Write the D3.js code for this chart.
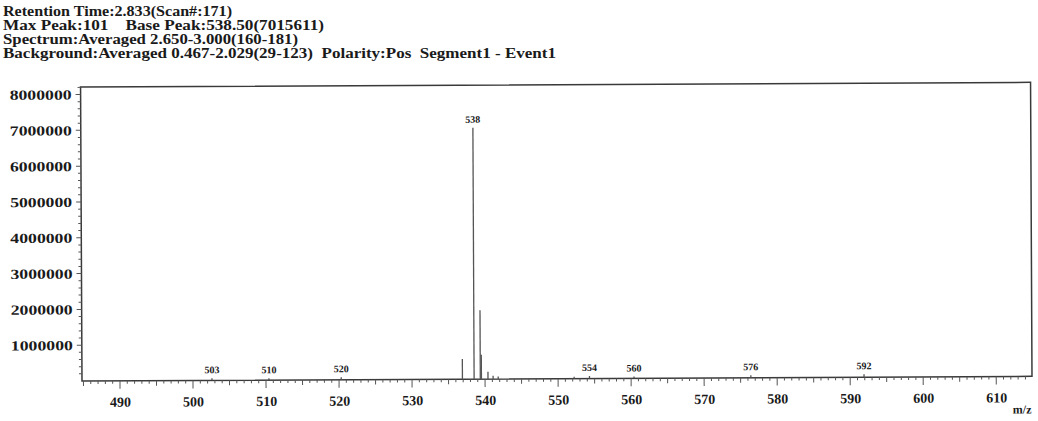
<!DOCTYPE html>
<html>
<head>
<meta charset="utf-8">
<script src="https://cdn.jsdelivr.net/npm/d3@7"></script>
<style>
  html, body { margin: 0; padding: 0; background: #fff; }
  svg { display: block; }
  text { font-family: "Liberation Serif", "Times New Roman", Times, serif; font-weight: bold; fill: #1a1a1a; white-space: pre; }
</style>
</head>
<body>
<svg id="chart" width="1038" height="421"></svg>
<script>
// Run header
const headerLines = [
  "Retention Time:2.833(Scan#:171)",
  "Max Peak:101    Base Peak:538.50(7015611)",
  "Spectrum:Averaged 2.650-3.000(160-181)",
  "Background:Averaged 0.467-2.029(29-123)  Polarity:Pos  Segment1 - Event1"
];
const headerWidths = [229, 321, 295, 553];

// Centroid peaks (m/z, intensity)
const peakMz        = [502.6, 510.4, 520.3, 536.9, 538.5, 539.35, 539.5, 540.4, 541.1, 541.8, 552.2, 554.3, 560.4, 576.4, 591.9];
const peakIntensity = [60000, 50000, 70000, 560000, 7015611, 1920000, 680000, 200000, 90000, 70000, 50000, 70000, 50000, 70000, 80000];

// Annotated peaks
const labelMz   = [502.6, 510.4, 520.3, 538.5, 554.3, 560.4, 576.4, 591.9];
const labelText = ["503", "510", "520", "538", "554", "560", "576", "592"];

// Axis ticks
const xTickValues = [490, 500, 510, 520, 530, 540, 550, 560, 570, 580, 590, 600, 610];
const yTickValues = [1000000, 2000000, 3000000, 4000000, 5000000, 6000000, 7000000, 8000000];

const svg = d3.select("#chart");

// Header block
svg.append("g").selectAll("text")
  .data(headerLines)
  .join("text")
  .attr("x", 3)
  .attr("y", (d, i) => 16 + i * 14)
  .attr("font-size", 14)
  .attr("xml:space", "preserve")
  .attr("textLength", (d, i) => headerWidths[i])
  .attr("lengthAdjust", "spacingAndGlyphs")
  .text(d => d);

const plotLeft = 82, plotRight = 1032, plotTop = 87, plotBottom = 381;
const x = d3.scaleLinear().domain([484.8, 614.9]).range([plotLeft, plotRight]);
const y = d3.scaleLinear().domain([0, 8210000]).range([plotBottom, plotTop]);

// Plot area, slightly tilted
const plot = svg.append("g").attr("transform", `rotate(-0.28, ${plotLeft}, ${plotBottom})`);

// Frame
plot.append("rect")
  .attr("x", plotLeft).attr("y", plotTop)
  .attr("width", plotRight - plotLeft).attr("height", plotBottom - plotTop)
  .attr("fill", "none").attr("stroke", "#3a3a3a").attr("stroke-width", 1.5);

// X axis: minor every 1, medium every 5, major every 10
const xMinor = d3.range(485, 615, 1);
plot.append("g").selectAll("line")
  .data(xMinor)
  .join("line")
  .attr("x1", d => x(d)).attr("x2", d => x(d))
  .attr("y1", plotBottom)
  .attr("y2", d => plotBottom + (d % 10 === 0 ? 8 : d % 5 === 0 ? 5 : 3))
  .attr("stroke", "#555").attr("stroke-width", 1);

const xAxis = d3.axisBottom(x).tickValues(xTickValues).tickSize(0).tickPadding(16).tickFormat(d3.format("d"));
const gx = plot.append("g").attr("transform", `translate(0,${plotBottom})`).call(xAxis);
gx.select(".domain").remove();
gx.selectAll("text").attr("font-size", 14).attr("font-family", "Liberation Serif").attr("fill", "#1a1a1a");

plot.append("text")
  .attr("x", 1022).attr("y", 418)
  .attr("text-anchor", "middle")
  .attr("font-size", 12)
  .text("m/z");

// Y axis: minor every 200000
const yMinor = d3.range(200000, 8200001, 200000);
plot.append("g").selectAll("line")
  .data(yMinor)
  .join("line")
  .attr("x1", plotLeft).attr("x2", d => plotLeft - (d % 1000000 === 0 ? 5 : 3))
  .attr("y1", d => y(d)).attr("y2", d => y(d))
  .attr("stroke", "#555").attr("stroke-width", 1);

const yAxis = d3.axisLeft(y).tickValues(yTickValues).tickSize(0).tickPadding(9).tickFormat(d3.format("d"));
const gy = plot.append("g").attr("transform", `translate(${plotLeft},0)`).call(yAxis);
gy.select(".domain").remove();
gy.selectAll("text")
  .attr("font-size", 14).attr("font-family", "Liberation Serif").attr("fill", "#1a1a1a")
  .attr("textLength", 62).attr("lengthAdjust", "spacingAndGlyphs");

// Peaks
plot.append("g").selectAll("line")
  .data(peakMz.map((m, i) => ({ m, v: peakIntensity[i] })))
  .join("line")
  .attr("x1", d => x(d.m)).attr("x2", d => x(d.m))
  .attr("y1", y(0)).attr("y2", d => y(d.v))
  .attr("stroke", "#555").attr("stroke-width", 1.3);

// Peak annotations
plot.append("g").selectAll("text")
  .data(labelMz.map((m, i) => ({ m, t: labelText[i], v: peakIntensity[peakMz.indexOf(m)] })))
  .join("text")
  .attr("x", d => x(d.m))
  .attr("y", d => y(d.v) - 5)
  .attr("text-anchor", "middle")
  .attr("font-size", 10)
  .text(d => d.t);
</script>
</body>
</html>
